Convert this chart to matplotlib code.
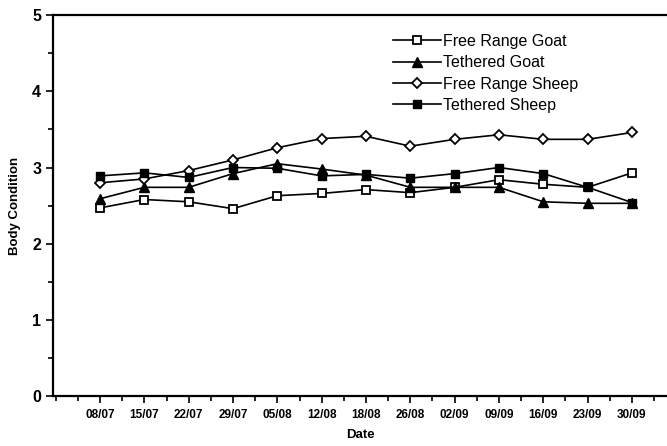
import numpy as np
import matplotlib.pyplot as plt
from matplotlib.ticker import MultipleLocator

# Daten
dates = ['08/07', '15/07', '22/07', '29/07', '05/08', '12/08', '18/08',
         '26/08', '02/09', '09/09', '16/09', '23/09', '30/09']
free_goat = [2.47, 2.58, 2.55, 2.46, 2.63, 2.66, 2.71, 2.67, 2.74, 2.84, 2.78, 2.74, 2.93]
teth_goat = [2.59, 2.74, 2.74, 2.92, 3.05, 2.98, 2.90, 2.74, 2.74, 2.74, 2.55, 2.53, 2.53]
free_sheep = [2.80, 2.85, 2.96, 3.10, 3.26, 3.38, 3.41, 3.28, 3.37, 3.43, 3.37, 3.37, 3.46]
teth_sheep = [2.89, 2.93, 2.87, 3.00, 2.99, 2.89, 2.91, 2.86, 2.92, 3.00, 2.92, 2.74, 2.54]

plt.rcParams['font.family'] = ['Liberation Sans', 'DejaVu Sans']

fig = plt.figure(figsize=(6.67, 4.46), dpi=100)
ax = fig.add_axes([0.0795, 0.112, 0.9205, 0.854])

x = np.arange(len(dates))
lw = 1.2
ax.plot(x, free_goat, '-', color='black', lw=lw, marker='s', ms=5.5,
        mfc='white', mec='black', mew=1.3, label='Free Range Goat')
ax.plot(x, teth_goat, '-', color='black', lw=lw, marker='^', ms=6.5,
        mfc='black', mec='black', label='Tethered Goat')
ax.plot(x, free_sheep, '-', color='black', lw=lw, marker='D', ms=5,
        mfc='white', mec='black', mew=1.3, label='Free Range Sheep')
ax.plot(x, teth_sheep, '-', color='black', lw=lw, marker='s', ms=6,
        mfc='black', mec='black', label='Tethered Sheep')

ax.set_xlim(-1.06, 12.79)
ax.set_ylim(0, 5)
ax.set_xticks(x)
ax.set_xticklabels(dates, fontsize=8.5, fontweight='bold')
ax.xaxis.set_minor_locator(MultipleLocator(0.5))
ax.yaxis.set_major_locator(MultipleLocator(1))
ax.yaxis.set_minor_locator(MultipleLocator(0.5))
ax.tick_params(axis='y', labelsize=11.5, width=1.2, length=5)
for lab in ax.get_yticklabels():
    lab.set_fontweight('bold')
ax.tick_params(axis='x', width=1.2, length=5, pad=4)
ax.tick_params(which='minor', width=1.2, length=3.5)

for s in ['left', 'bottom', 'top']:
    ax.spines[s].set_linewidth(1.6)
ax.spines['right'].set_visible(False)

ax.set_xlabel('Date', fontsize=9.5, fontweight='bold', labelpad=6)
ax.set_ylabel('Body Condition', fontsize=9.5, fontweight='bold', labelpad=8)

ax.legend(loc='upper left', bbox_to_anchor=(0.543, 0.968), frameon=False,
          fontsize=11.5, handlelength=3.0, handletextpad=0.15, labelspacing=0.4,
          borderaxespad=0)

fig.savefig('out.png', dpi=100)
